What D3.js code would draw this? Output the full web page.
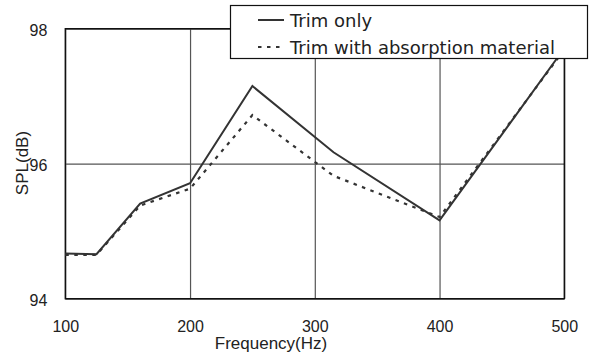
<!DOCTYPE html>
<html>
<head>
<meta charset="utf-8">
<script src="https://d3js.org/d3.v7.min.js"></script>
<style>
  body { margin: 0; background: #fff; }
  svg { display: block; }
  .axis text { font-family: "Liberation Sans", Arial, sans-serif; font-size: 16px; fill: #222; }
  .axis .domain { display: none; }
  .axis line { stroke: #555; stroke-width: 1.2; }
</style>
</head>
<body>
<div id="chart"></div>
<script>
  // frequency (Hz) and SPL (dB)
  var freqs = [100, 125, 160, 200, 250, 315, 400, 500];
  var trimOnly = [94.67, 94.66, 95.41, 95.71, 97.15, 96.17, 95.16, 97.71];
  var trimAbsorb = [94.65, 94.65, 95.38, 95.63, 96.72, 95.82, 95.21, 97.69];
  var xTicks = [100, 200, 300, 400, 500];
  var yTicks = [94, 96, 98];
  var seriesNames = ["Trim only", "Trim with absorption material"];

  var W = 592, H = 356;
  // plot box (note: "top" is reserved on window, so use plot_*)
  var plot_left = 65.3, plot_right = 564.3, plot_top = 28.7, plot_bottom = 298.7;

  var svg = d3.select("#chart").append("svg")
    .attr("width", W)
    .attr("height", H);

  var x = d3.scaleLinear().domain([100, 500]).range([plot_left, plot_right]);
  var y = d3.scaleLinear().domain([94, 98]).range([plot_bottom, plot_top]);

  // grid + tick labels
  svg.append("g")
    .attr("class", "axis x")
    .attr("transform", "translate(0," + plot_bottom + ")")
    .call(d3.axisBottom(x).tickValues(xTicks).tickFormat(d3.format("d"))
      .tickSize(-(plot_bottom - plot_top)).tickPadding(22));

  svg.append("g")
    .attr("class", "axis y")
    .attr("transform", "translate(" + plot_left + ",0)")
    .call(d3.axisLeft(y).tickValues(yTicks).tickFormat(d3.format("d"))
      .tickSize(-(plot_right - plot_left)).tickPadding(18));

  svg.selectAll(".axis.y text").attr("dy", "0.42em");

  // frame
  svg.append("rect")
    .attr("x", plot_left).attr("y", plot_top)
    .attr("width", plot_right - plot_left).attr("height", plot_bottom - plot_top)
    .attr("fill", "none")
    .attr("stroke", "#111")
    .attr("stroke-width", 1.4);

  var line = d3.line()
    .x(function (d) { return x(d[0]); })
    .y(function (d) { return y(d[1]); });

  svg.append("path")
    .datum(d3.zip(freqs, trimAbsorb))
    .attr("d", line)
    .attr("fill", "none")
    .attr("stroke", "#333")
    .attr("stroke-width", 2.2)
    .attr("stroke-dasharray", "3.5,5.5");

  svg.append("path")
    .datum(d3.zip(freqs, trimOnly))
    .attr("d", line)
    .attr("fill", "none")
    .attr("stroke", "#333")
    .attr("stroke-width", 2);

  // axis titles
  svg.append("text")
    .attr("x", 271).attr("y", 349)
    .attr("text-anchor", "middle")
    .style("font-family", "Liberation Sans, Arial, sans-serif")
    .style("font-size", "17px")
    .style("fill", "#222")
    .text("Frequency(Hz)");

  svg.append("text")
    .attr("transform", "translate(28,163) rotate(-90)")
    .attr("text-anchor", "middle")
    .style("font-family", "Liberation Sans, Arial, sans-serif")
    .style("font-size", "17px")
    .style("fill", "#222")
    .text("SPL(dB)");

  // legend
  var lg = svg.append("g");
  lg.append("rect")
    .attr("x", 230.5).attr("y", 5.5)
    .attr("width", 357).attr("height", 53)
    .attr("fill", "#fff")
    .attr("stroke", "#111")
    .attr("stroke-width", 1.2);

  var rows = lg.selectAll("g.row")
    .data(seriesNames)
    .enter().append("g")
    .attr("class", "row")
    .attr("transform", function (d, i) { return "translate(0," + (20 + i * 27) + ")"; });

  rows.append("line")
    .attr("x1", 258).attr("x2", 284)
    .attr("y1", 0).attr("y2", 0)
    .attr("stroke", "#333")
    .attr("stroke-width", 2)
    .attr("stroke-dasharray", function (d, i) { return i ? "3.5,5.5" : null; });

  rows.append("text")
    .attr("x", 290).attr("y", 7)
    .style("font-family", "DejaVu Sans, sans-serif")
    .style("font-size", "18px")
    .style("fill", "#222")
    .text(function (d) { return d; });
</script>
</body>
</html>
